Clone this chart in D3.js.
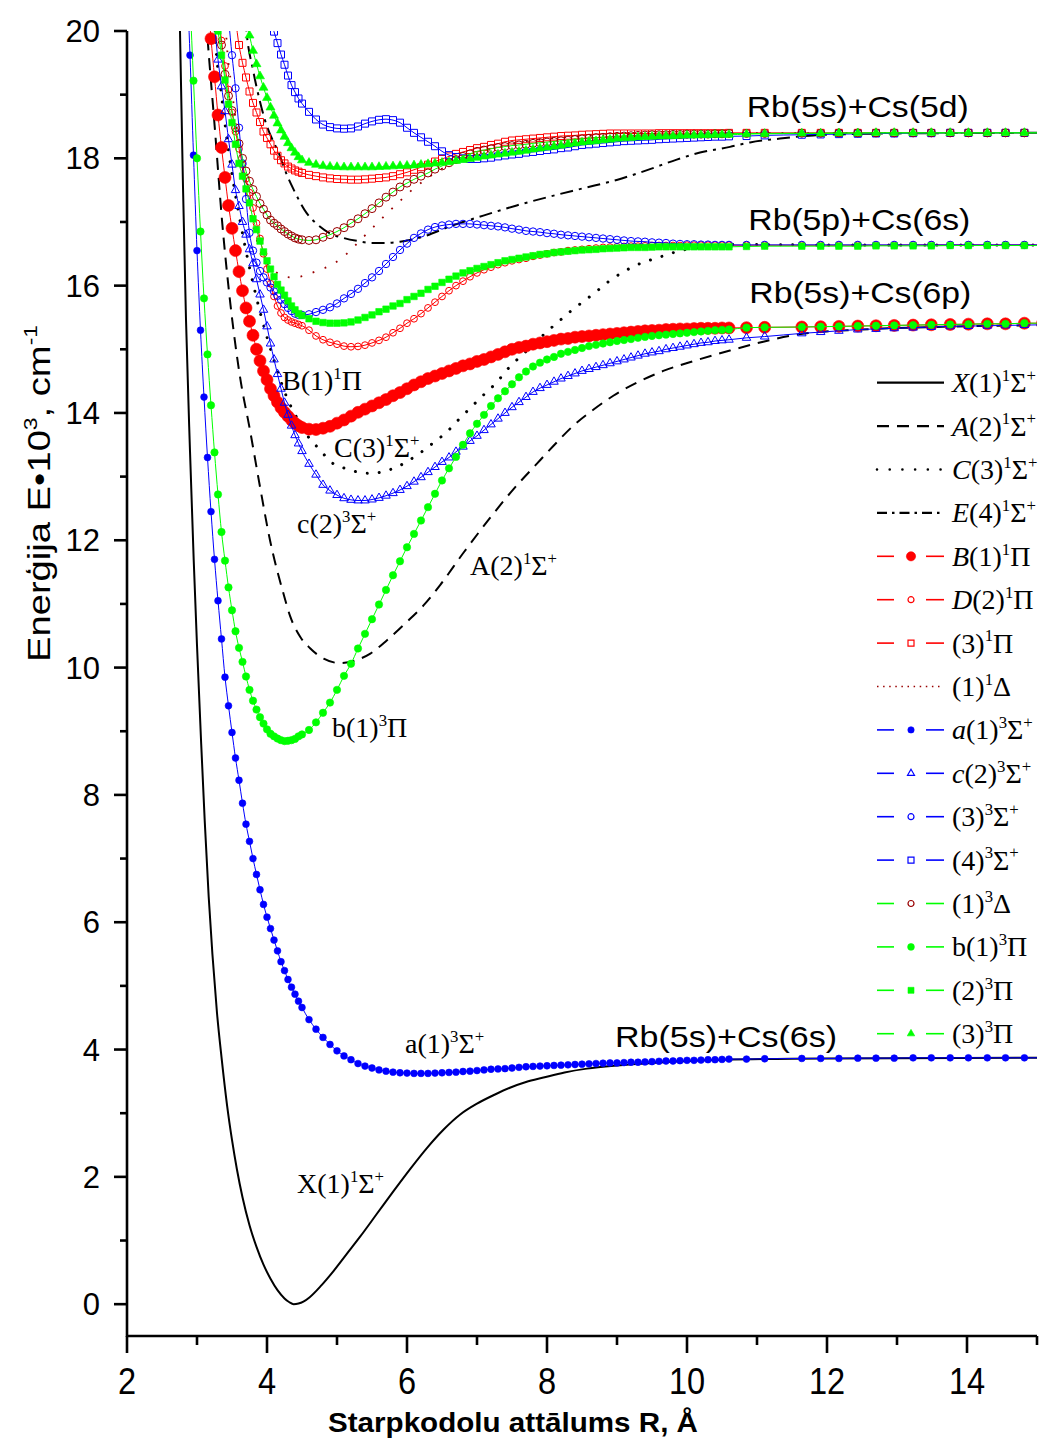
<!DOCTYPE html>
<html><head><meta charset="utf-8">
<script src="https://cdn.jsdelivr.net/npm/d3@7"></script>
<style>body{margin:0;background:#fff}svg{display:block}</style>
</head><body>
<svg id="chart" width="1042" height="1439"></svg>
<script>
// ---------------- DATA ----------------
const X_TICKS = [2, 4, 6, 8, 10, 12, 14];
const Y_TICKS = [0, 2, 4, 6, 8, 10, 12, 14, 16, 18, 20];

// shared R grids (Å) for the marker curves
const R_WALL = [2.80,2.85,2.90,2.95,3.00, 3.05,3.10,3.15,3.20,3.25, 3.30,3.35,3.40,3.45,3.50,
  3.55,3.60,3.65,3.70,3.75, 3.80,3.85,3.90,3.95,4.00, 4.05,4.10,4.15,4.20,4.25, 4.30,4.35,4.40,4.45,4.50];
const R_MID = [4.6,4.7,4.8,4.9,5.0,5.1,5.2,5.3,5.4,5.5, 5.6,5.7,5.8,5.9,6.0,6.1,6.2,6.3,6.4,6.5,
  6.6,6.7,6.8,6.9,7.0,7.1,7.2,7.3,7.4,7.5, 7.6,7.7,7.8,7.9,8.0,8.1,8.2,8.3,8.4,8.5,
  8.6,8.7,8.8,8.9,9.0,9.1,9.2,9.3,9.4,9.5, 9.6,9.7,9.8,9.9,10.0,10.1,10.2,10.3,10.4,10.5, 10.6];
const R_FAR = [10.85,11.11,11.64,11.91,12.17,12.44,12.70,12.96,13.23,13.49,13.76,14.02,14.29,14.55,14.82,15.08];

// line-only curves: [R (Å), E (10^3 cm^-1)]
const X1S = [[2.735,21.2],[2.757,20],[2.80,17.55],[2.843,15.46],[2.90,13.4],[2.953,11.69],[3.00,10.35],[3.06,8.8],[3.11,7.6],[3.167,6.4],[3.22,5.5],[3.286,4.57],[3.35,3.88],[3.43,3.12],[3.50,2.58],[3.57,2.12],[3.65,1.68],[3.75,1.24],[3.85,0.90],[3.95,0.62],[4.05,0.40],[4.15,0.22],[4.25,0.09],[4.32,0.03],[4.38,0.0],[4.45,0.01],[4.52,0.04],[4.61,0.11],[4.78,0.30],[4.95,0.52],[5.14,0.79],[5.33,1.06],[5.57,1.42],[5.81,1.78],[6.05,2.13],[6.29,2.46],[6.52,2.74],[6.76,2.98],[7.0,3.15],[7.25,3.29],[7.47,3.40],[7.7,3.49],[7.95,3.56],[8.25,3.64],[8.57,3.70],[9.0,3.75],[9.5,3.79],[10.5,3.84],[12,3.86],[15.08,3.87]];
const A2S = [[3.13,20.2],[3.143,20],[3.257,18.44],[3.357,17.03],[3.471,15.77],[3.614,14.57],[3.757,13.73],[3.90,12.84],[4.043,12.0],[4.233,11.17],[4.333,10.80],[4.476,10.48],[4.619,10.30],[4.81,10.14],[5.047,10.07],[5.286,10.12],[5.476,10.22],[5.714,10.43],[6.0,10.72],[6.239,10.98],[6.476,11.30],[6.804,11.80],[7.186,12.35],[7.519,12.80],[7.853,13.20],[8.09,13.48],[8.376,13.80],[8.661,14.05],[8.947,14.27],[9.329,14.50],[9.661,14.66],[10.139,14.83],[10.614,14.98],[11.09,15.12],[11.567,15.23],[12.5,15.31],[13.5,15.35],[15.08,15.38]];
const C3S = [[3.25,20.2],[3.257,20],[3.35,19.0],[3.443,18.18],[3.614,17.03],[3.757,16.25],[3.90,15.59],[4.114,14.78],[4.281,14.25],[4.424,13.93],[4.567,13.66],[4.757,13.42],[4.924,13.22],[5.114,13.13],[5.304,13.07],[5.496,13.05],[5.661,13.08],[5.853,13.15],[6.019,13.25],[6.21,13.39],[6.376,13.53],[6.567,13.70],[6.733,13.89],[6.924,14.10],[7.09,14.28],[7.281,14.48],[7.447,14.70],[7.614,14.88],[7.804,15.07],[7.971,15.25],[8.161,15.43],[8.329,15.59],[8.519,15.75],[8.686,15.89],[8.876,16.06],[9.233,16.30],[9.614,16.45],[9.947,16.56],[10.329,16.62],[10.71,16.645],[12,16.64],[15.08,16.64]];
const E4S = [[3.69,20.2],[3.71,19.96],[3.80,19.39],[3.90,18.89],[3.971,18.6],[4.186,18.03],[4.281,17.75],[4.376,17.52],[4.567,17.14],[4.71,16.97],[4.90,16.82],[5.09,16.75],[5.30,16.70],[5.50,16.67],[5.70,16.67],[5.90,16.69],[6.233,16.77],[6.614,16.93],[7.09,17.10],[7.567,17.26],[8.043,17.40],[8.519,17.53],[8.996,17.66],[9.471,17.83],[9.853,17.98],[10.186,18.09],[10.614,18.18],[10.9,18.25],[11.329,18.31],[11.804,18.36],[12.28,18.38],[13.5,18.395],[15.08,18.40]];
const D1Δ = [[3.40,20.3],[3.414,20],[3.50,19.07],[3.614,18.13],[3.70,17.50],[3.781,17.03],[3.853,16.72],[3.947,16.45],[4.09,16.25],[4.233,16.15],[4.35,16.13],[4.471,16.14],[4.59,16.18],[4.71,16.23],[4.947,16.34],[5.139,16.50],[5.329,16.71],[5.519,16.92],[5.71,17.13],[5.90,17.33],[6.09,17.52],[6.281,17.68],[6.471,17.82],[6.614,17.90],[6.853,18.02],[7.09,18.11],[7.567,18.24],[8.043,18.31],[8.757,18.36],[9.5,18.385],[10.6,18.395],[15.08,18.40]];

// marker curves: E values on R_WALL | R_MID | R_FAR (null = off chart)
const E_B1P = [null,null,null,null,null, null,null,20.6,19.88,19.28, 18.68,18.17,17.70,17.26,16.90,
  16.55,16.22,15.92,15.65,15.44, 15.22,15.00,14.82,14.66,14.52, 14.38,14.27,14.17,14.08,14.01, 13.95,13.89,13.84,13.80,13.77,
  13.745,13.74,13.76,13.79,13.84,13.89,13.95,14.01,14.06,14.11,
  14.16,14.21,14.27,14.32,14.38,14.44,14.49,14.54,14.58,14.62,
  14.66,14.70,14.74,14.77,14.81,14.84,14.88,14.92,14.96,15.00,
  15.03,15.05,15.08,15.10,15.12,15.14,15.16,15.17,15.19,15.20,
  15.21,15.22,15.23,15.24,15.25,15.26,15.27,15.28,15.29,15.295,
  15.30,15.31,15.315,15.32,15.32,15.325,15.33,15.33,15.33,15.335,
  15.335,
  15.34,15.345,15.35,15.355,15.36,15.365,15.37,15.375,15.38,15.385,15.39,15.395,15.40,15.40,15.41,15.41];
const E_D2P = [null,null,null,null,null, null,null,null,null,null, 20.3,19.85,19.45,19.08,18.72,
  18.42,18.15,17.90,17.68,17.46, 17.22,16.98,16.74,16.50,16.26, 16.03,15.83,15.68,15.57,15.50, 15.46,15.43,15.41,15.39,15.37,
  15.30,15.21,15.15,15.11,15.08,15.05,15.04,15.045,15.065,15.10,
  15.14,15.19,15.26,15.33,15.41,15.48,15.56,15.65,15.74,15.83,
  15.92,16.00,16.07,16.14,16.20,16.25,16.29,16.33,16.36,16.39,
  16.41,16.43,16.46,16.48,16.50,16.52,16.53,16.55,16.56,16.57,
  16.58,16.59,16.60,16.605,16.61,16.615,16.62,16.62,16.625,16.63,
  16.63,16.63,16.63,16.63,16.635,16.635,16.635,16.635,16.635,16.635,
  16.635,
  16.635,16.635,16.635,16.635,16.635,16.635,16.635,16.635,16.64,16.64,16.64,16.64,16.64,16.64,16.64,16.64];
const E_3P = [null,null,null,null,null, null,null,null,null,null, null,null,null,null,null,
  20.2,19.78,19.50,19.27,19.05, 18.87,18.72,18.57,18.42,18.32, 18.22,18.12,18.04,17.97,17.92, 17.87,17.84,17.81,17.79,17.77,
  17.74,17.72,17.70,17.685,17.675,17.67,17.665,17.665,17.67,17.68,
  17.69,17.70,17.72,17.75,17.78,17.82,17.86,17.90,17.95,17.99,
  18.03,18.07,18.10,18.13,18.16,18.18,18.21,18.23,18.26,18.28,
  18.29,18.30,18.31,18.32,18.33,18.34,18.35,18.355,18.36,18.37,
  18.375,18.38,18.385,18.39,18.39,18.39,18.39,18.39,18.39,18.39,
  18.395,18.395,18.395,18.395,18.395,18.395,18.395,18.395,18.395,18.395,
  18.40,
  18.40,18.40,18.40,18.40,18.40,18.40,18.40,18.40,18.40,18.40,18.40,18.40,18.40,18.40,18.40,18.40];
const E_a1S = [null,21.0,19.62,18.05,16.55, 15.3,14.25,13.3,12.45,11.7, 11.05,10.45,9.85,9.4,8.98,
  8.58,8.23,7.87,7.54,7.27, 7.0,6.75,6.51,6.28,6.08, 5.9,5.72,5.55,5.38,5.24, 5.1,4.98,4.87,4.76,4.66,
  4.47,4.32,4.19,4.08,3.98,3.90,3.84,3.78,3.74,3.71,
  3.68,3.66,3.645,3.635,3.63,3.625,3.625,3.625,3.63,3.635,
  3.64,3.645,3.655,3.66,3.67,3.68,3.69,3.695,3.70,3.71,
  3.72,3.73,3.735,3.74,3.745,3.75,3.755,3.76,3.765,3.77,
  3.775,3.78,3.785,3.79,3.79,3.795,3.80,3.80,3.805,3.81,
  3.815,3.82,3.82,3.825,3.83,3.83,3.835,3.84,3.84,3.845,
  3.85,
  3.85,3.855,3.86,3.86,3.86,3.865,3.865,3.865,3.87,3.87,3.87,3.87,3.87,3.87,3.87,3.87];
const E_c2S = [null,null,null,null,null, null,null,null,null,20.1, 19.55,19.13,18.74,18.30,17.90,
  17.50,17.25,17.00,16.80,16.57, 16.35,16.10,15.86,15.62,15.36, 15.09,14.84,14.61,14.38,14.16, 13.97,13.80,13.65,13.52,13.40,
  13.20,13.03,12.87,12.78,12.71,12.66,12.635,12.625,12.625,12.64,
  12.665,12.70,12.74,12.79,12.85,12.92,12.99,13.07,13.15,13.23,
  13.30,13.39,13.47,13.56,13.64,13.73,13.82,13.91,14.00,14.09,
  14.17,14.25,14.33,14.39,14.44,14.49,14.54,14.58,14.62,14.66,
  14.69,14.72,14.75,14.78,14.81,14.84,14.87,14.90,14.93,14.95,
  14.97,15.00,15.02,15.04,15.06,15.08,15.10,15.11,15.13,15.14,
  15.15,
  15.18,15.20,15.25,15.27,15.29,15.31,15.32,15.33,15.34,15.35,15.36,15.365,15.37,15.375,15.38,15.385];
const E_3S = [null,null,null,null,null, null,null,null,null,null, null,null,null,20.2,19.62,
  19.10,18.48,17.92,17.36,16.83, 16.55,16.36,16.23,16.13,16.05, 15.97,15.91,15.84,15.78,15.71, 15.65,15.60,15.56,15.54,15.54,
  15.55,15.585,15.62,15.66,15.72,15.80,15.87,15.95,16.04,16.13,
  16.23,16.34,16.45,16.56,16.66,16.75,16.82,16.88,16.92,16.945,
  16.96,16.97,16.97,16.97,16.96,16.95,16.94,16.93,16.915,16.895,
  16.88,16.86,16.85,16.84,16.825,16.815,16.80,16.79,16.78,16.77,
  16.76,16.75,16.74,16.73,16.72,16.71,16.70,16.695,16.69,16.68,
  16.675,16.67,16.66,16.655,16.65,16.65,16.645,16.645,16.64,16.64,
  16.64,
  16.64,16.64,16.64,16.64,16.64,16.64,16.64,16.64,16.64,16.64,16.64,16.64,16.64,16.64,16.64,16.64];
const E_4S = [null,null,null,null,null, null,null,null,null,null, null,null,null,null,null,
  null,null,null,null,null, null,null,null,null,null, 20.2,19.99,19.81,19.63,19.47, 19.30,19.15,19.04,18.94,18.86,
  18.73,18.61,18.53,18.49,18.47,18.465,18.47,18.50,18.545,18.58,
  18.605,18.615,18.60,18.56,18.48,18.40,18.33,18.26,18.19,18.11,
  18.05,18.02,18.00,17.99,17.99,18.00,18.01,18.03,18.045,18.06,
  18.07,18.09,18.10,18.115,18.13,18.14,18.16,18.17,18.19,18.21,
  18.22,18.23,18.24,18.25,18.26,18.27,18.275,18.28,18.285,18.29,
  18.30,18.305,18.31,18.315,18.32,18.325,18.33,18.335,18.34,18.34,
  18.345,
  18.35,18.36,18.37,18.375,18.38,18.385,18.39,18.39,18.395,18.395,18.40,18.40,18.40,18.40,18.40,18.40];
const E_1D = [null,null,null,null,null, null,null,null,null,null, 20.2,19.78,19.32,18.98,18.75,
  18.48,18.23,18.00,17.80,17.64, 17.51,17.40,17.29,17.20,17.11, 17.03,16.98,16.94,16.89,16.85, 16.81,16.78,16.75,16.73,16.72,
  16.71,16.72,16.76,16.80,16.85,16.91,16.98,17.05,17.13,17.21,
  17.30,17.39,17.47,17.55,17.61,17.67,17.72,17.77,17.83,17.88,
  17.93,17.98,18.03,18.07,18.11,18.13,18.15,18.17,18.185,18.20,
  18.21,18.22,18.235,18.245,18.255,18.265,18.275,18.285,18.295,18.305,
  18.315,18.325,18.33,18.34,18.345,18.35,18.355,18.36,18.365,18.37,
  18.37,18.37,18.375,18.375,18.38,18.38,18.38,18.38,18.385,18.385,
  18.39,
  18.39,18.39,18.395,18.395,18.40,18.40,18.40,18.40,18.40,18.40,18.40,18.40,18.40,18.40,18.40,18.40];
const E_b1P = [null,null,20.5,19.22,18.00, 16.85,15.80,14.92,14.12,13.38, 12.72,12.13,11.68,11.26,10.90,
  10.57,10.31,10.09,9.86,9.65, 9.48,9.34,9.22,9.12,9.03, 8.96,8.92,8.885,8.86,8.845, 8.85,8.86,8.88,8.92,8.95,
  9.02,9.14,9.29,9.45,9.65,9.87,10.06,10.30,10.53,10.76,
  10.99,11.22,11.45,11.67,11.89,12.10,12.31,12.52,12.73,12.94,
  13.13,13.31,13.50,13.68,13.83,13.97,14.11,14.23,14.34,14.45,
  14.56,14.65,14.73,14.79,14.84,14.88,14.93,14.96,14.99,15.02,
  15.05,15.07,15.09,15.11,15.13,15.145,15.16,15.18,15.195,15.21,
  15.22,15.23,15.24,15.25,15.26,15.27,15.28,15.29,15.30,15.305,
  15.31,
  15.34,15.345,15.35,15.355,15.36,15.365,15.37,15.375,15.38,15.385,15.39,15.395,15.40,15.40,15.41,15.41];
const E_2P = [null,null,null,null,null, null,null,null,null,20.45, 20.0,19.62,19.23,18.85,18.56,
  18.22,17.92,17.72,17.52,17.30, 17.05,16.88,16.70,16.53,16.39, 16.26,16.14,16.02,15.93,15.85, 15.76,15.68,15.62,15.56,15.53,
  15.48,15.44,15.42,15.41,15.41,15.415,15.43,15.46,15.50,15.54,
  15.59,15.63,15.68,15.72,15.78,15.83,15.88,15.94,15.99,16.05,
  16.10,16.15,16.20,16.235,16.27,16.30,16.33,16.36,16.39,16.41,
  16.43,16.45,16.47,16.49,16.50,16.52,16.53,16.54,16.55,16.56,
  16.565,16.57,16.58,16.585,16.59,16.595,16.60,16.60,16.60,16.605,
  16.61,16.61,16.61,16.61,16.61,16.61,16.61,16.61,16.61,16.61,
  16.61,
  16.615,16.62,16.62,16.62,16.62,16.62,16.625,16.625,16.625,16.625,16.63,16.63,16.63,16.63,16.63,16.63];
const E_3Pt = [null,null,null,null,null, null,null,null,null,null, null,null,null,null,null,
  null,null,null,20.2,19.93, 19.69,19.48,19.29,19.11,18.95, 18.80,18.67,18.55,18.44,18.34, 18.24,18.16,18.09,18.02,17.97,
  17.93,17.90,17.88,17.87,17.865,17.86,17.86,17.86,17.86,17.86,
  17.865,17.87,17.875,17.88,17.885,17.89,17.90,17.91,17.92,17.93,
  17.94,17.96,17.975,17.99,18.01,18.03,18.045,18.06,18.075,18.09,
  18.105,18.12,18.14,18.155,18.17,18.185,18.20,18.22,18.235,18.25,
  18.26,18.27,18.285,18.295,18.31,18.315,18.32,18.33,18.335,18.34,
  18.345,18.35,18.35,18.355,18.36,18.36,18.365,18.365,18.37,18.37,
  18.37,
  18.38,18.385,18.39,18.39,18.395,18.395,18.40,18.40,18.40,18.40,18.40,18.40,18.40,18.40,18.40,18.40];

// text content
const LEGEND_LABELS = [
  [['X','i'],['(1)'],['1','s'],['Σ'],['+','s']],
  [['A','i'],['(2)'],['1','s'],['Σ'],['+','s']],
  [['C','i'],['(3)'],['1','s'],['Σ'],['+','s']],
  [['E','i'],['(4)'],['1','s'],['Σ'],['+','s']],
  [['B','i'],['(1)'],['1','s'],['Π']],
  [['D','i'],['(2)'],['1','s'],['Π']],
  [['(3)'],['1','s'],['Π']],
  [['(1)'],['1','s'],['Δ']],
  [['a','i'],['(1)'],['3','s'],['Σ'],['+','s']],
  [['c','i'],['(2)'],['3','s'],['Σ'],['+','s']],
  [['(3)'],['3','s'],['Σ'],['+','s']],
  [['(4)'],['3','s'],['Σ'],['+','s']],
  [['(1)'],['3','s'],['Δ']],
  [['b(1)'],['3','s'],['Π']],
  [['(2)'],['3','s'],['Π']],
  [['(3)'],['3','s'],['Π']]
];
const CURVE_LABELS = [
  [['B(1)'],['1','s'],['Π']],
  [['C(3)'],['1','s'],['Σ'],['+','s']],
  [['c(2)'],['3','s'],['Σ'],['+','s']],
  [['A(2)'],['1','s'],['Σ'],['+','s']],
  [['b(1)'],['3','s'],['Π']],
  [['a(1)'],['3','s'],['Σ'],['+','s']],
  [['X(1)'],['1','s'],['Σ'],['+','s']]
];
const ASYMPTOTE_LABELS = ['Rb(5s)+Cs(5d)', 'Rb(5p)+Cs(6s)', 'Rb(5s)+Cs(6p)', 'Rb(5s)+Cs(6s)'];

// ---------------- LAYOUT / STYLE ----------------
const RED = '#ff0000', BLUE = '#0000ff', GREEN = '#00ff00', DRED = '#990000';
const R_ALL = R_WALL.concat(R_MID, R_FAR);
function pts(E) { return R_ALL.map((r, i) => [r, E[i]]).filter(d => d[1] != null); }

const SERIES = [
  {pts: X1S, line: '#000', lw: 2},
  {pts: A2S, line: '#000', lw: 2, dash: '12,8'},
  {pts: C3S, line: '#000', lw: 3, dash: '0.01,12', cap: 'round', ldash: '0.01,12.7', llw: 2.6},
  {pts: E4S, line: '#000', lw: 2, dash: '13,6,3,6', ldash: '10,5,2.5,5'},
  {pts: pts(E_B1P), line: RED, lw: 1, m: 'circle', ms: 6, fill: RED, stroke: RED, lms: 4.6},
  {pts: pts(E_D2P), line: RED, lw: 1, m: 'circle', ms: 3.4, fill: 'none', stroke: RED, lms: 3},
  {pts: pts(E_3P), line: RED, lw: 1, m: 'square', ms: 7, fill: 'none', stroke: RED, lms: 6},
  {pts: D1Δ, line: DRED, lw: 1.8, dash: '1.8,11', ldash: '1.5,4.6', llw: 1.5},
  {pts: pts(E_a1S), line: BLUE, lw: 1, m: 'circle', ms: 3.4, fill: BLUE, stroke: BLUE, lms: 3.2},
  {pts: pts(E_c2S), line: BLUE, lw: 1, m: 'triangle', ms: 8.5, fill: 'none', stroke: BLUE, lms: 7},
  {pts: pts(E_3S), line: BLUE, lw: 1, m: 'circle', ms: 3.7, fill: 'none', stroke: BLUE, lms: 3},
  {pts: pts(E_4S), line: BLUE, lw: 1, m: 'square', ms: 7, fill: 'none', stroke: BLUE, lms: 6},
  {pts: pts(E_1D), line: GREEN, lw: 1, m: 'circle', ms: 4, fill: 'none', stroke: DRED, lms: 3},
  {pts: pts(E_b1P), line: GREEN, lw: 1, m: 'circle', ms: 3.7, fill: GREEN, stroke: GREEN, lms: 3.4},
  {pts: pts(E_2P), line: GREEN, lw: 1, m: 'square', ms: 6.5, fill: GREEN, stroke: GREEN, lms: 6},
  {pts: pts(E_3Pt), line: GREEN, lw: 1, m: 'triangle', ms: 9, fill: GREEN, stroke: GREEN, lms: 7.5}
];
const CURVE_LABEL_POS = [[282,390],[334,457],[297,533],[470,575],[332,737],[405,1053],[297,1193]];
const ASYM_POS = [[746.7,116.7],[748.3,229.5],[749.3,303],[615,1047]];

const svg = d3.select('#chart');
const x = d3.scaleLinear().domain([2, 15]).range([127, 1037]);
const y = d3.scaleLinear().domain([-0.5, 20]).range([1336, 31]);
const SERIF = '"Liberation Serif","Times New Roman",serif';
const SANS = '"Liberation Sans",Arial,Helvetica,sans-serif';

svg.append('rect').attr('width', 1042).attr('height', 1439).attr('fill', '#fff');
svg.append('defs').append('clipPath').attr('id', 'plot')
  .append('rect').attr('x', 127).attr('y', 31).attr('width', 910).attr('height', 1305);

function markerPath(type, s) {
  if (type === 'circle') return d3.symbol(d3.symbolCircle, Math.PI * s * s)();
  if (type === 'square') return d3.symbol(d3.symbolSquare, s * s)();
  return d3.symbol(d3.symbolTriangle, s * s * Math.sqrt(3) / 4)();
}

const plot = svg.append('g').attr('clip-path', 'url(#plot)');
const lineGen = d3.line().x(d => x(d[0])).y(d => y(d[1])).curve(d3.curveMonotoneX);

SERIES.forEach(s => {
  const g = plot.append('g');
  g.append('path').attr('d', lineGen(s.pts)).attr('fill', 'none')
    .attr('stroke', s.line).attr('stroke-width', s.lw)
    .attr('stroke-dasharray', s.dash || null)
    .attr('stroke-linecap', s.cap || 'butt');
  if (s.m) {
    const mp = markerPath(s.m, s.ms);
    g.selectAll('path.mk').data(s.pts).join('path').attr('class', 'mk')
      .attr('d', mp)
      .attr('transform', d => `translate(${x(d[0])},${y(d[1])})`)
      .attr('fill', s.fill).attr('stroke', s.stroke)
      .attr('stroke-width', s.fill === 'none' ? 1 : 0.6);
  }
});

// rich text helper
function rich(sel, parts, fs) {
  let raised = false;
  parts.forEach(p => {
    const t = sel.append('tspan').text(p[0]);
    if (p[1] === 's') {
      t.attr('font-size', fs * 0.6);
      if (!raised) t.attr('dy', -fs * 0.4);
      raised = true;
    } else {
      t.attr('font-size', fs);
      if (raised) { t.attr('dy', fs * 0.4); raised = false; }
      if (p[1] === 'i') t.attr('font-style', 'italic');
    }
  });
}

// curve labels
CURVE_LABELS.forEach((parts, i) => {
  const t = svg.append('text').attr('x', CURVE_LABEL_POS[i][0]).attr('y', CURVE_LABEL_POS[i][1])
    .attr('font-family', SERIF).attr('font-size', 28).attr('fill', '#000');
  rich(t, parts, 28);
});

// asymptote labels
ASYMPTOTE_LABELS.forEach((s, i) => {
  svg.append('text').attr('x', ASYM_POS[i][0]).attr('y', ASYM_POS[i][1])
    .attr('font-family', SANS).attr('font-size', 30)
    .attr('textLength', 222).attr('lengthAdjust', 'spacingAndGlyphs').text(s);
});

// legend
const LX0 = 877, LX1 = 944, LMX = 911, LTX = 952, LY0 = 382.7, LDY = 43.4;
SERIES.forEach((s, i) => {
  const yy = LY0 + i * LDY;
  const g = svg.append('g');
  if (s.m) {
    [[LX0, 894], [926, LX1]].forEach(seg => g.append('line')
      .attr('x1', seg[0]).attr('x2', seg[1]).attr('y1', yy).attr('y2', yy)
      .attr('stroke', s.line).attr('stroke-width', 1.6));
    g.append('path').attr('d', markerPath(s.m, s.lms))
      .attr('transform', `translate(${LMX},${yy})`)
      .attr('fill', s.fill).attr('stroke', s.stroke).attr('stroke-width', s.fill === 'none' ? 1.2 : 0.6);
  } else {
    g.append('line').attr('x1', LX0).attr('x2', LX1).attr('y1', yy).attr('y2', yy)
      .attr('stroke', s.line).attr('stroke-width', s.llw || 2.2)
      .attr('stroke-dasharray', s.ldash || s.dash || null)
      .attr('stroke-linecap', s.cap || 'butt');
  }
  const t = svg.append('text').attr('x', LTX).attr('y', yy + 9.5)
    .attr('font-family', SERIF).attr('font-size', 28);
  rich(t, LEGEND_LABELS[i], 28);
});

// axes
const ax = svg.append('g').attr('stroke', '#000').attr('stroke-width', 2.6);
ax.append('line').attr('x1', 127).attr('x2', 127).attr('y1', 31).attr('y2', 1337);
ax.append('line').attr('x1', 126).attr('x2', 1037).attr('y1', 1336).attr('y2', 1336);
d3.range(0, 21, 1).forEach(v => {
  const len = v % 2 === 0 ? 13 : 7;
  ax.append('line').attr('x1', 127 - len).attr('x2', 127).attr('y1', y(v)).attr('y2', y(v));
});
d3.range(2, 16, 1).forEach(v => {
  const len = v % 2 === 0 ? 17 : 9;
  ax.append('line').attr('x1', x(v)).attr('x2', x(v)).attr('y1', 1336).attr('y2', 1336 + len);
});
Y_TICKS.forEach(v => {
  svg.append('text').attr('x', 100).attr('y', y(v)).attr('dy', '0.36em')
    .attr('text-anchor', 'end').attr('font-family', SANS).attr('font-size', 31).text(v);
});
X_TICKS.forEach(v => {
  svg.append('text').attr('transform', `translate(${x(v)},1394) scale(0.88,1)`)
    .attr('text-anchor', 'middle').attr('font-family', SANS).attr('font-size', 37).text(v);
});

// axis titles
svg.append('text').attr('x', 513).attr('y', 1432).attr('text-anchor', 'middle')
  .attr('font-family', SANS).attr('font-weight', 'bold').attr('font-size', 27)
  .attr('textLength', 370).attr('lengthAdjust', 'spacingAndGlyphs')
  .text('Starpkodolu attālums R, Å');
const yt = svg.append('text').attr('transform', 'translate(50,493.5) rotate(-90)')
  .attr('text-anchor', 'middle').attr('font-family', SANS).attr('font-size', 32)
  .attr('textLength', 337).attr('lengthAdjust', 'spacingAndGlyphs');
rich(yt, [['Enerģija E•10'], ['3', 's'], [', cm'], ['-1', 's']], 32);

// sanity check of array lengths
const bad = [E_B1P,E_D2P,E_3P,E_a1S,E_c2S,E_3S,E_4S,E_1D,E_b1P,E_2P,E_3Pt]
  .map((a, i) => [i, a.length]).filter(d => d[1] !== R_ALL.length);
if (bad.length) throw new Error('length mismatch ' + JSON.stringify(bad) + ' expected ' + R_ALL.length);
</script>
</body></html>
